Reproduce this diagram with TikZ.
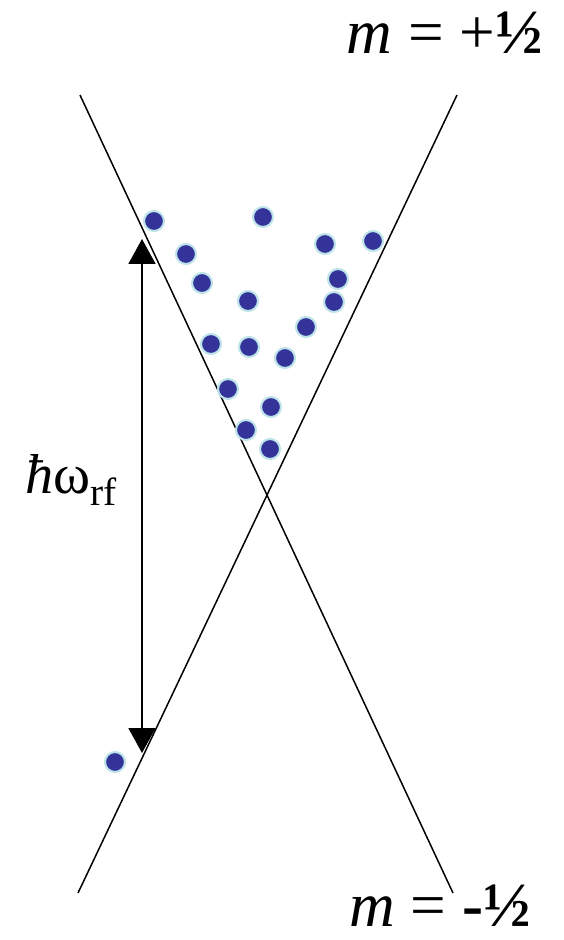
\documentclass[tikz,border=0pt]{standalone}
\usepackage{fontspec}
\setmainfont{Liberation Serif}
\usepackage{tikz}
\usetikzlibrary{arrows.meta}
\definecolor{dotblue}{RGB}{51,51,153}
\definecolor{dotrim}{RGB}{190,228,234}
\tikzset{
    cone_line/.style={
        draw=black, line width=0.85pt
    },
    spin_dot/.style={
        circle, fill=dotblue, draw=dotrim, line width=1.2pt,
        minimum size=0.4cm, inner sep=0pt
    },
    gap_arrow/.style={
        {Triangle[length=0.5cm,width=0.54cm]}-{Triangle[length=0.5cm,width=0.54cm]},
        line width=1.1pt, draw=black
    },
    level_lbl/.style={
        font=\fontsize{36}{42}\selectfont, inner sep=0pt, text depth=0pt
    },
    gap_lbl/.style={
        font=\fontsize{32}{38}\selectfont, inner sep=0pt
    }
}

\begin{document}
\begin{tikzpicture}[x=0.02cm, y=-0.02cm]
    \useasboundingbox (0,0) rectangle (564,940);

    % level lines
    \coordinate (a_top) at (80,95);
    \coordinate (a_bot) at (453,893);
    \coordinate (b_top) at (457,95);
    \coordinate (b_bot) at (78,893);
    \draw[cone_line] (a_top) -- (a_bot);
    \draw[cone_line] (b_top) -- (b_bot);

    % rf quantum
    \coordinate (gap_up) at (142,239);
    \coordinate (gap_down) at (142,753);
    \draw[gap_arrow] (gap_down) -- (gap_up);

    % spins
    \node[spin_dot] (d1) at (154,221) {};
    \node[spin_dot] (d2) at (263,217) {};
    \node[spin_dot] (d3) at (186,254) {};
    \node[spin_dot] (d4) at (325,244) {};
    \node[spin_dot] (d5) at (373,241) {};
    \node[spin_dot] (d6) at (202,283) {};
    \node[spin_dot] (d7) at (338,279) {};
    \node[spin_dot] (d8) at (248,301) {};
    \node[spin_dot] (d9) at (334,302) {};
    \node[spin_dot] (d10) at (306,327) {};
    \node[spin_dot] (d11) at (211,344) {};
    \node[spin_dot] (d12) at (249,347) {};
    \node[spin_dot] (d13) at (285,358) {};
    \node[spin_dot] (d14) at (228,389) {};
    \node[spin_dot] (d15) at (271,407) {};
    \node[spin_dot] (d16) at (246,430) {};
    \node[spin_dot] (d17) at (270,449) {};
    \node[spin_dot] (d18) at (115,762) {};

    % labels
    \node[level_lbl, anchor=base east] (up_lbl) at (543,53) {\textit{m} = +\textbf{½}};
    \node[level_lbl, anchor=base east] (down_lbl) at (531,926) {\textit{m} = \textbf{-½}};
    \node[gap_lbl, anchor=base west] (rf_lbl) at (25,493) {\textit{ħ}ω\textsubscript{rf}};
\end{tikzpicture}
\end{document}
